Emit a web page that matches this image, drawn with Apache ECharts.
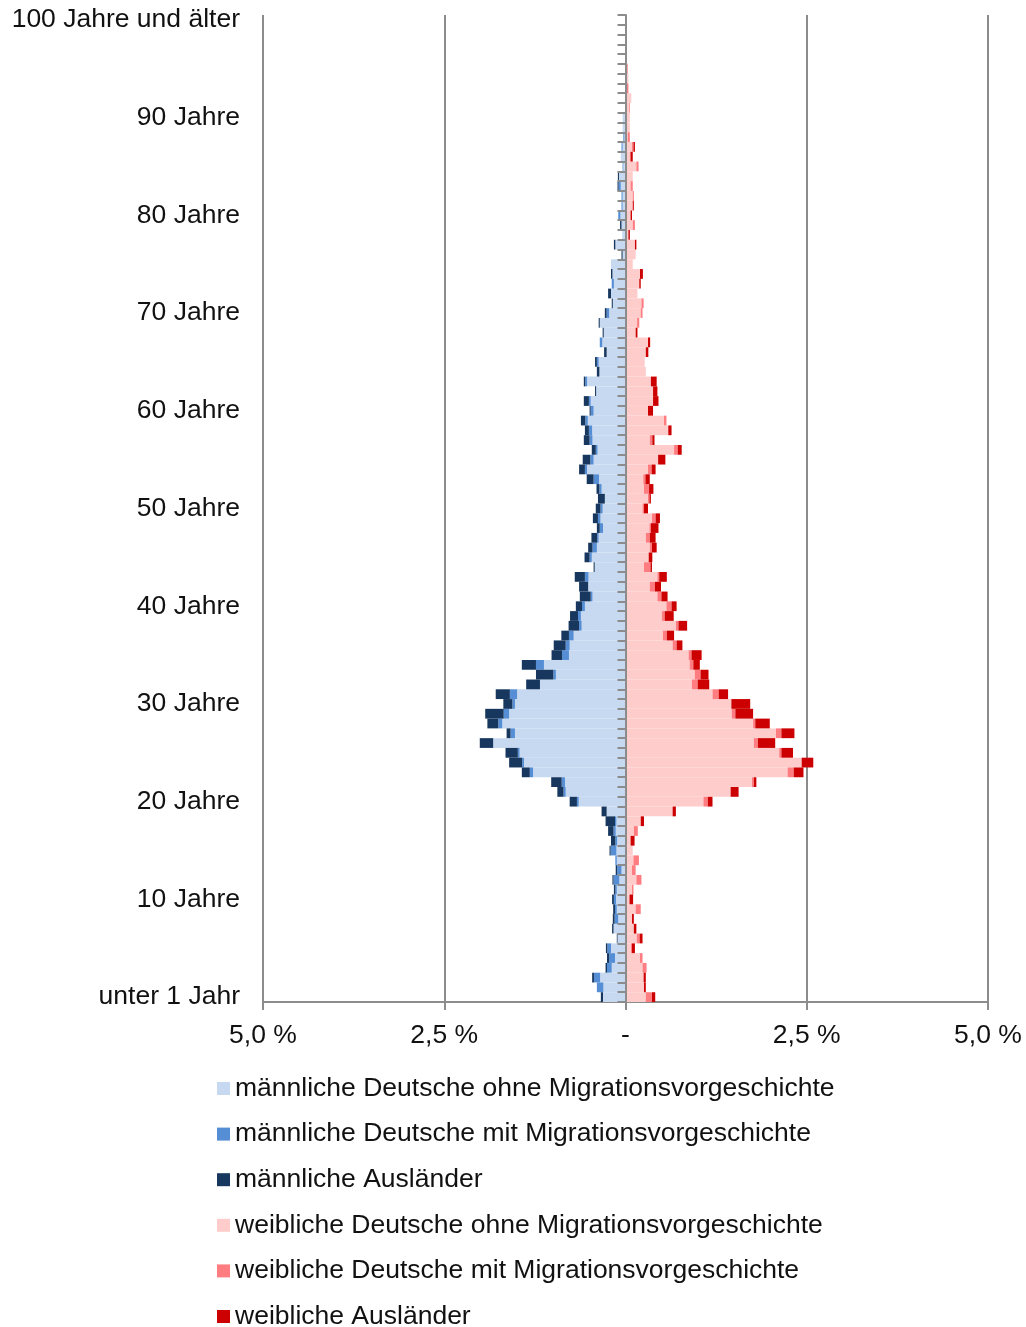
<!DOCTYPE html>
<html>
<head>
<meta charset="utf-8">
<script src="https://cdn.jsdelivr.net/npm/echarts@6/dist/echarts.min.js"></script>
<style>
html,body{margin:0;padding:0;background:#fff;}
#chart{width:1026px;height:1327px;}
</style>
</head>
<body>
<div id="chart"></div>
<script>
// Age categories 0..100
const ages = [];
for (let a = 0; a <= 100; a++) {
  ages.push(a === 0 ? 'unter 1 Jahr' : (a === 100 ? '100 Jahre und älter' : (a === 1 ? '1 Jahr' : a + ' Jahre')));
}

const seriesNames = [
  'männliche Deutsche ohne Migrationsvorgeschichte',
  'männliche Deutsche mit Migrationsvorgeschichte',
  'männliche Ausländer',
  'weibliche Deutsche ohne Migrationsvorgeschichte',
  'weibliche Deutsche mit Migrationsvorgeschichte',
  'weibliche Ausländer'
];

// values in % of population, index = age (0..100)
const maleGermanNoMig = [
0.31,0.305,0.35,0.19,0.145,0.2,0.11,0.165,0.1,0.12,
0.13,0.12,0.085,0.055,0.12,0.125,0.115,0.135,0.125,0.26,
0.645,0.825,0.835,1.275,1.4,1.46,1.825,1.525,1.7,1.605,
1.525,1.495,1.18,0.96,1.125,0.78,0.77,0.715,0.605,0.615,
0.56,0.455,0.515,0.51,0.425,0.465,0.395,0.37,0.31,0.345,
0.315,0.285,0.33,0.365,0.53,0.44,0.385,0.455,0.46,0.52,
0.44,0.48,0.405,0.53,0.36,0.37,0.26,0.32,0.3,0.355,
0.225,0.175,0.2,0.16,0.18,0.2,0.04,0.14,0.045,0.055,
0.07,0.04,0.04,0.065,0.09,0.03,0.065,0.04,0.015,0.04,
0.04,0,0,0,0,0,0,0,0,0,0];
const maleGermanMig = [
0,0.09,0.085,0.065,0.08,0.05,0,0,0.05,0.025,
0.03,0.02,0.08,0.06,0.02,0.08,0.025,0.03,0.02,0,
0.025,0.03,0.045,0.045,0.025,0.025,0,0.06,0.055,0.075,
0.035,0.1,0,0.035,0.11,0.095,0.055,0.065,0.035,0.04,
0.04,0.025,0,0.05,0,0.03,0.06,0.02,0.045,0.035,
0.03,0,0.03,0.075,0.03,0.045,0.025,0.04,0.045,0.035,
0.04,0.025,0,0.025,0,0.025,0,0.035,0,0,
0.035,0,0,0.03,0,0,0,0,0,0,
0.03,0.015,0.015,0.03,0,0.01,0,0.015,0.015,0,
0,0,0,0,0,0,0,0,0,0,0];
const maleForeign = [
0.03,0,0.025,0.02,0.03,0.02,0.01,0.02,0.025,0.025,
0.025,0.02,0.015,0.02,0,0.015,0.06,0.075,0.13,0.07,
0.1,0.085,0.145,0.11,0.18,0.17,0.185,0.055,0.15,0.255,
0.125,0.195,0.19,0.24,0.195,0.145,0.165,0.105,0.145,0.11,
0.085,0.15,0.125,0.14,0.015,0.07,0.06,0.08,0.04,0.07,
0.065,0.095,0.04,0.095,0.08,0.105,0.055,0.08,0.055,0.06,
0.015,0.07,0.015,0.02,0.035,0.025,0.035,0,0.015,0.015,
0.025,0.015,0.04,0,0.02,0,0.015,0.02,0,0.02,
0,0,0,0.015,0.015,0,0,0,0,0,
0,0,0,0,0,0,0,0,0,0,0];
const femaleGermanNoMig = [
0.28,0.255,0.25,0.235,0.2,0.075,0.155,0.115,0.09,0.14,
0.055,0.09,0.15,0.09,0.11,0.1,0.07,0.115,0.21,0.65,
1.075,1.45,1.745,2.235,2.43,2.12,1.77,2.075,1.76,1.465,
1.46,1.2,0.915,0.955,0.885,0.87,0.65,0.515,0.695,0.5,
0.565,0.44,0.335,0.44,0.255,0.32,0.335,0.28,0.33,0.365,
0.235,0.31,0.255,0.245,0.31,0.45,0.67,0.335,0.59,0.53,
0.31,0.38,0.38,0.35,0.28,0.265,0.28,0.31,0.14,0.16,
0.21,0.22,0.165,0.19,0.2,0.1,0.14,0.13,0.04,0.1,
0.07,0.1,0.1,0.07,0.1,0.15,0.06,0.09,0.03,0.06,
0.06,0.05,0.08,0.02,0.04,0.01,0.02,0.02,0,0,0];
const femaleGermanMig = [
0.085,0,0,0.055,0.035,0.015,0.04,0,0,0.07,
0,0.02,0.07,0.05,0.075,0,0,0.055,0,0,
0.06,0,0.025,0.085,0,0.03,0.055,0.075,0.03,0.05,
0,0.085,0.08,0.08,0.05,0.04,0.055,0.055,0.035,0.04,
0.07,0.055,0.07,0.025,0.09,0,0.03,0.055,0.02,0.05,
0.02,0.02,0.07,0.03,0.05,0,0.05,0.035,0,0.035,
0,0,0,0,0,0,0,0,0,0.03,
0.025,0.03,0,0,0,0,0,0,0,0.03,
0,0,0.015,0.03,0,0.03,0.01,0.02,0.03,0,
0,0.01,0,0.02,0,0.02,0,0,0,0,0];
const femaleForeign = [
0.045,0.025,0.03,0,0,0.04,0.04,0.035,0.025,0,
0.05,0,0,0,0,0,0.055,0,0.045,0.045,
0.065,0.11,0.035,0.135,0.16,0.16,0.24,0.18,0.2,0.245,
0.26,0.13,0.16,0.11,0.09,0.14,0.08,0.1,0.12,0.125,
0.07,0.085,0.085,0.105,0.02,0.05,0.065,0.08,0.105,0.06,
0.055,0.02,0.06,0.06,0.055,0.1,0.055,0.03,0.045,0,
0.07,0.075,0.06,0.08,0,0,0.035,0.03,0.025,0,
0,0,0,0.02,0.04,0,0,0.02,0.02,0,
0.02,0.015,0,0,0,0,0.03,0.02,0,0,
0,0,0,0,0,0,0,0,0,0,0];

const xTicks = [-5, -2.5, 0, 2.5, 5];

const colors = ['#C6D9F1', '#558ED5', '#17375E', '#FFCCCC', '#FF7C80', '#CC0000'];
const font = "'Liberation Sans', Arial, sans-serif";
const fs = 26.5;

const chart = echarts.init(document.getElementById('chart'), null, {renderer: 'canvas'});

function bar(name, data, color, sign) {
  return {
    name: name,
    type: 'bar',
    stack: 'all',
    xAxisIndex: 0,
    yAxisIndex: 0,
    barCategoryGap: '0%',
    itemStyle: {color: color},
    emphasis: {disabled: true},
    data: data.map(v => sign * v)
  };
}

// one legend block per row so the column never wraps
const legends = seriesNames.map((n, i) => ({
  orient: 'vertical',
  left: 217,
  top: 1075 + i * 45.6,
  padding: 0,
  itemWidth: 13,
  itemHeight: 13,
  icon: 'rect',
  selectedMode: false,
  textStyle: {fontFamily: font, fontSize: fs, color: '#111'},
  data: [n]
}));

chart.setOption({
  animation: false,
  color: colors,
  grid: {left: 263, right: 38, top: 15, bottom: 325, containLabel: false},
  legend: legends,
  xAxis: {
    type: 'value',
    min: xTicks[0],
    max: xTicks[xTicks.length - 1],
    interval: 2.5,
    axisLine: {show: true, onZero: false, lineStyle: {color: '#8c8c8c', width: 2}},
    axisTick: {show: true, length: 8, lineStyle: {color: '#8c8c8c', width: 2}},
    splitLine: {show: true, lineStyle: {color: '#8c8c8c', width: 2}},
    axisLabel: {
      fontFamily: font, fontSize: fs, color: '#111', margin: 20,
      formatter: v => v === 0 ? '-' : Math.abs(v).toFixed(1).replace('.', ',') + ' %'
    }
  },
  yAxis: [
    {
      type: 'category',
      data: ages,
      z: 10,
      axisLine: {show: true, onZero: true, lineStyle: {color: '#8c8c8c', width: 2}},
      axisTick: {show: true, length: 8, interval: 0, lineStyle: {color: '#8c8c8c', width: 2}},
      axisLabel: {show: false},
      splitLine: {show: false}
    },
    {
      type: 'category',
      data: ages,
      position: 'left',
      axisLine: {show: false, onZero: false},
      axisTick: {show: false},
      splitLine: {show: false},
      axisLabel: {
        show: true, interval: 9, margin: 23,
        fontFamily: font, fontSize: fs, color: '#111'
      }
    }
  ],
  series: [
    bar(seriesNames[0], maleGermanNoMig, colors[0], -1),
    bar(seriesNames[1], maleGermanMig, colors[1], -1),
    bar(seriesNames[2], maleForeign, colors[2], -1),
    bar(seriesNames[3], femaleGermanNoMig, colors[3], 1),
    bar(seriesNames[4], femaleGermanMig, colors[4], 1),
    bar(seriesNames[5], femaleForeign, colors[5], 1)
  ]
});
</script>
</body>
</html>
